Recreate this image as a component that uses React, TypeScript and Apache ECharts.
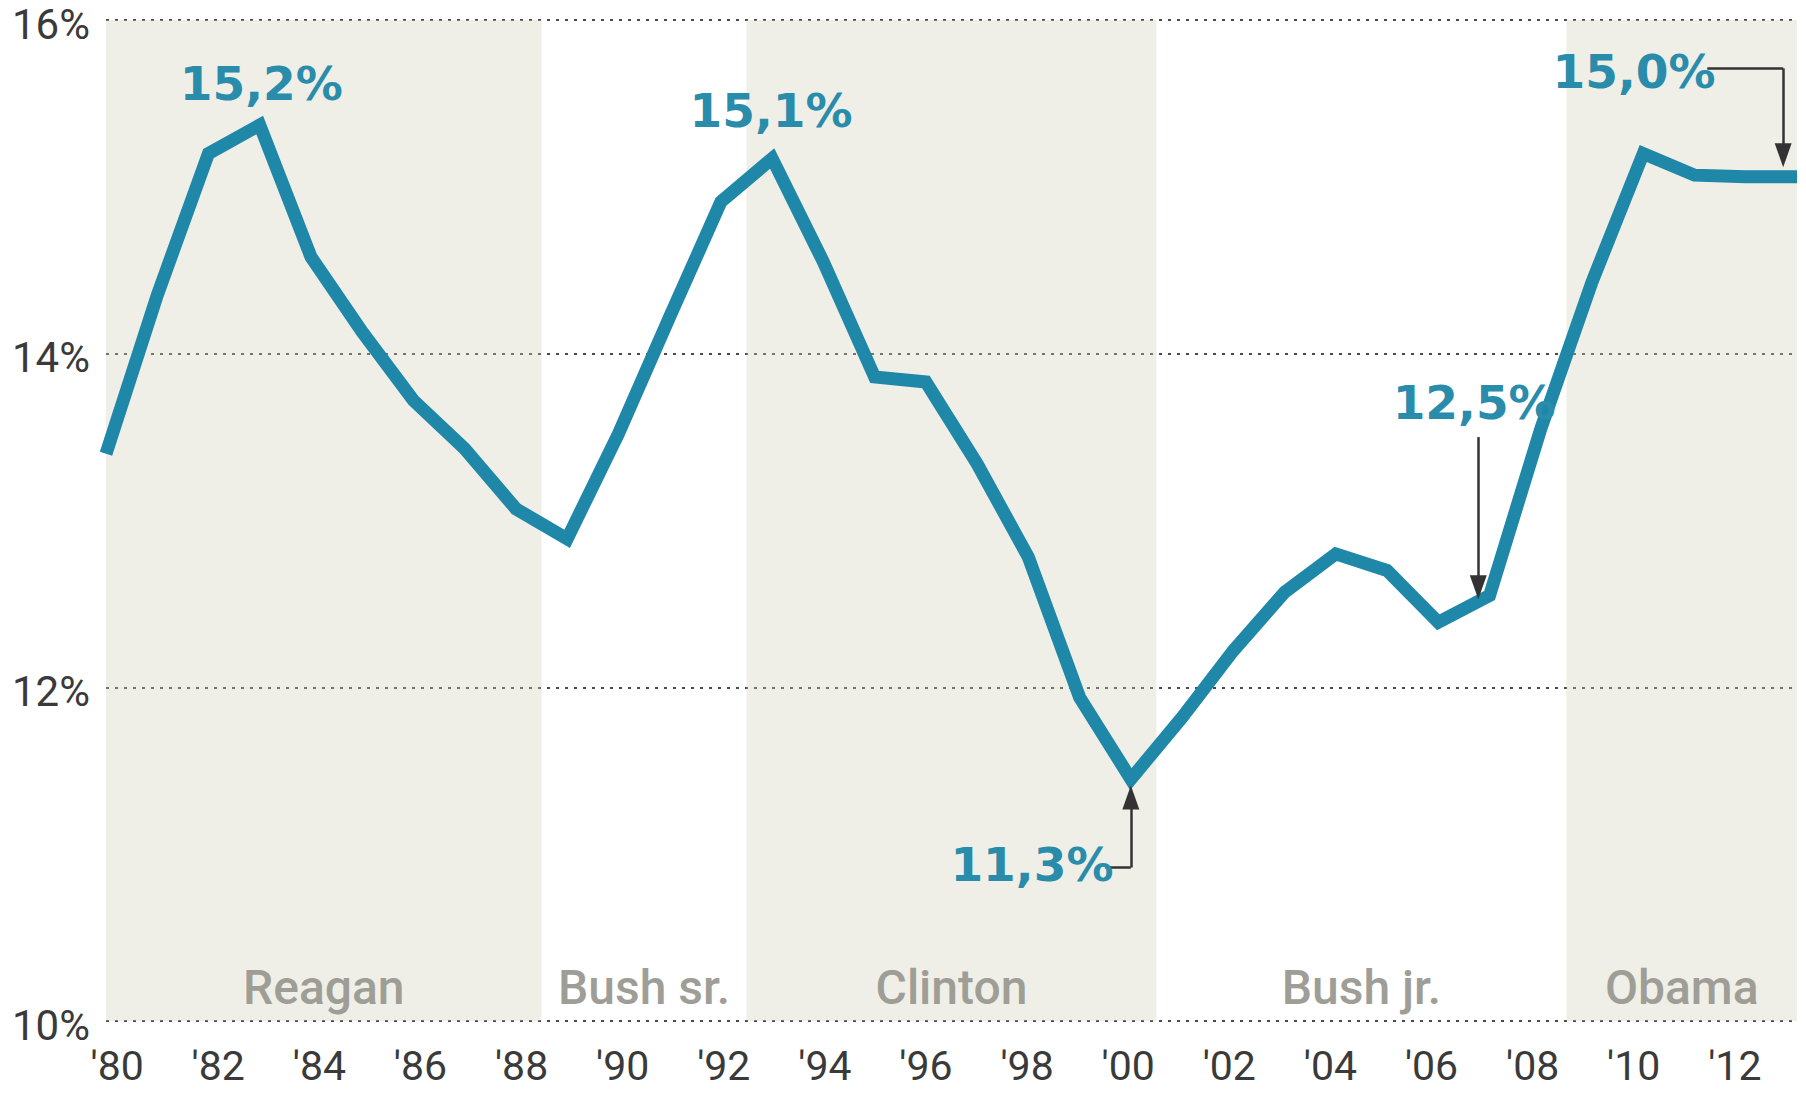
import React, { useEffect, useRef } from "react";
import * as echarts from "echarts";

// ---- data ----
const years = [
  1980, 1981, 1982, 1983, 1984, 1985, 1986, 1987, 1988, 1989,
  1990, 1991, 1992, 1993, 1994, 1995, 1996, 1997, 1998, 1999,
  2000, 2001, 2002, 2003, 2004, 2005, 2006, 2007, 2008, 2009,
  2010, 2011, 2012, 2013,
];
const shares = [
  13.40, 14.35, 15.20, 15.37, 14.58, 14.13, 13.72, 13.43, 13.07, 12.89,
  13.52, 14.22, 14.91, 15.17, 14.55, 13.86, 13.83, 13.34, 12.78, 11.94,
  11.45, 11.82, 12.22, 12.57, 12.80, 12.70, 12.39, 12.55, 13.55, 14.43,
  15.20, 15.07, 15.06, 15.06,
];
const tickYears = [1980, 1982, 1984, 1986, 1988, 1990, 1992, 1994, 1996, 1998, 2000, 2002, 2004, 2006, 2008, 2010, 2012];
const presidents = ["Reagan", "Bush sr.", "Clinton", "Bush jr.", "Obama"];
const termStart = [1980, 1988.5, 1992.5, 2000.5, 2008.5];
const termEnd = [1988.5, 1992.5, 2000.5, 2008.5, 2013];
const termShaded = [true, false, true, false, true];
const calloutText = ["15,2%", "15,1%", "11,3%", "12,5%", "15,0%"];
const calloutYear = [1983.03, 1992.98, 1998.07, 2006.7, 2009.82];
const calloutValue = [15.62, 15.46, 10.94, 13.71, 15.69];
// arrow segments: [x1, y1, x2, y2, head]
const arrowSegments = [
  [1999.5, 10.92, 2000, 10.92, 0],
  [2000, 10.92, 2000, 11.34, 1],
  [2006.78, 13.5, 2006.78, 12.6, 1],
  [2011.25, 15.71, 2012.73, 15.71, 0],
  [2012.73, 15.71, 2012.73, 15.19, 1],
];

const TEAL = "#1f87a8";
const LABEL_TEAL = "#2a8cab";

export default function App() {
  const ref = useRef<HTMLDivElement>(null);
  useEffect(() => {
    if (!ref.current) return;
    const chart = echarts.init(ref.current, undefined, { renderer: "svg" });
    const lineData = years.map((y, i) => [y, shares[i]]);
    const areaData = presidents.map((p, i) => [
      {
        name: p,
        xAxis: termStart[i],
        itemStyle: { color: termShaded[i] ? "rgba(205,205,180,0.32)" : "rgba(255,255,255,0)" },
      },
      { xAxis: termEnd[i] },
    ]);
    const pointData = calloutText.map((t, i) => ({
      name: t,
      coord: [calloutYear[i], calloutValue[i]],
    }));
    const arrowData = arrowSegments.map((s) => [
      { coord: [s[0], s[1]], symbol: "none" },
      { coord: [s[2], s[3]], symbol: s[4] ? "triangle" : "none", symbolSize: [17, 24] },
    ]);
    chart.setOption({
      animation: false,
      backgroundColor: "#ffffff",
      grid: { left: 106, right: 9, top: 20, bottom: 78, containLabel: false },
      xAxis: [
        {
          type: "value",
          min: 1980,
          max: 2013,
          position: "bottom",
          axisLine: { show: false },
          axisTick: { show: false },
          axisLabel: { show: false },
          splitLine: { show: false },
        },
        {
          type: "value",
          min: 1979.78,
          max: 2013.23,
          position: "bottom",
          offset: 0,
          axisLine: { show: false },
          axisTick: { show: false },
          splitLine: { show: false },
          axisLabel: {
            show: true,
            customValues: tickYears,
            margin: 40,
            lineHeight: 10,
            verticalAlign: "top",
            fontFamily: "Roboto",
            fontSize: 41,
            color: "#3a3a3a",
            formatter: (v: number) => "'" + String(Math.round(v)).slice(2),
          },
        },
      ],
      yAxis: {
        type: "value",
        min: 10,
        max: 16,
        interval: 2,
        axisLine: { show: false },
        axisTick: { show: false },
        axisLabel: {
          formatter: "{value}%",
          fontFamily: "Roboto",
          fontSize: 42,
          color: "#3a3a3a",
          margin: 16,
          verticalAlign: "top",
          lineHeight: 8,
        },
        splitLine: {
          show: true,
          lineStyle: { color: "#4a4a4a", width: 2, type: [3, 6] },
        },
      },
      series: [
        {
          type: "line",
          xAxisIndex: 0,
          data: lineData,
          symbol: "none",
          z: 3,
          lineStyle: { color: TEAL, width: 13, join: "miter", cap: "butt" },
          markArea: {
            silent: true,
            data: areaData,
            label: {
              show: true,
              position: "insideBottom",
              distance: 10,
              fontFamily: "Roboto",
              fontWeight: 500,
              fontSize: 48,
              color: "#9e9e97",
            },
          },
          markPoint: {
            silent: true,
            symbol: "circle",
            symbolSize: 1,
            itemStyle: { color: "rgba(0,0,0,0)" },
            data: pointData,
            label: {
              show: true,
              position: "inside",
              formatter: "{b}",
              fontFamily: "DejaVu Sans",
              fontWeight: "bold",
              fontSize: 47,
              color: LABEL_TEAL,
            },
          },
          markLine: {
            silent: true,
            symbol: ["none", "none"],
            data: arrowData,
            label: { show: false },
            lineStyle: { color: "#333333", width: 2.5, type: "solid" },
          },
        },
      ],
    });
    return () => chart.dispose();
  }, []);
  return (
    <div
      ref={ref}
      style={{ position: "fixed", left: 0, top: 0, width: 1806, height: 1099, background: "#fff" }}
    />
  );
}
